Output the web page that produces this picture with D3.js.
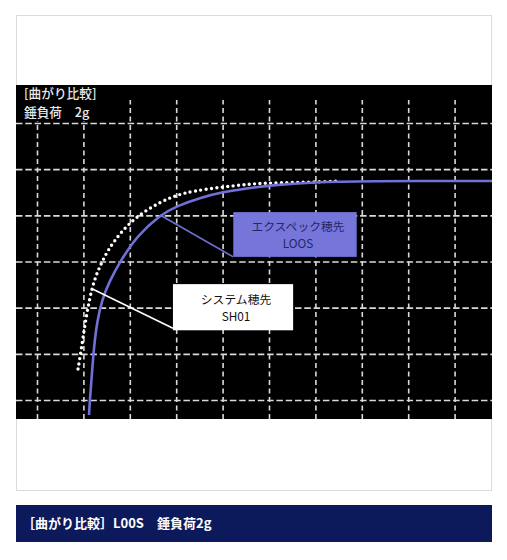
<!DOCTYPE html>
<html><head><meta charset="utf-8">
<script src="https://cdn.jsdelivr.net/npm/d3@7"></script>
<style>body{margin:0;background:#fff;}svg{display:block;}</style>
</head><body>
<script>
// ---- data (grid units) ----
const gridX = [0,1,2,3,4,5,6,7,8,9];
const gridY = [0,1,2,3,4,5,6];
const loosX = [1.121,1.142,1.185,1.228,1.293,1.401,1.552,1.810,2.155,2.651,3.017,3.513,3.987,4.591,4.978,5.991,6.983,9.914];
const loosY = [-0.325,0.043,0.585,1.148,1.689,2.166,2.556,3.032,3.552,4.007,4.202,4.375,4.505,4.592,4.646,4.722,4.743,4.743];
const sh01X = [0.884,0.927,0.991,1.056,1.142,1.207,1.293,1.401,1.530,1.789,2.155,2.651,3.017,3.362,3.987,4.591,4.978,5.991,6.530];
const sh01Y = [0.671,0.931,1.343,1.776,2.231,2.491,2.751,2.989,3.249,3.617,3.985,4.289,4.440,4.527,4.613,4.678,4.700,4.722,4.743];
const chartLabel = ["[曲がり比較]", "錘負荷　2g"];
const loosName = ["エクスペック穂先", "LOOS"];
const sh01Name = ["システム穂先", "SH01"];
const titleText = "［曲がり比較］L00S　錘負荷2g";

const W = 507, H = 560;
const frame = {x0:16, x1:492, y0:15, y1:491};
const plot = {x0:16, x1:492, y0:85, y1:419};

const x = d3.scaleLinear().domain([0,10]).range([37, 501]);
const y = d3.scaleLinear().domain([0,6]).range([400, 123]);

const svg = d3.select("body").append("svg").attr("width", W).attr("height", H);

// outer frame
svg.append("rect").attr("x", frame.x0+0.5).attr("y", frame.y0+0.5)
  .attr("width", frame.x1-frame.x0-1).attr("height", frame.y1-frame.y0-1)
  .attr("fill", "#fff").attr("stroke", "#dcdcdc");

// black plot area
svg.append("rect").attr("x", plot.x0).attr("y", plot.y0)
  .attr("width", plot.x1-plot.x0).attr("height", plot.y1-plot.y0).attr("fill", "#000");

svg.append("clipPath").attr("id","clip").append("rect")
  .attr("x", plot.x0).attr("y", plot.y0).attr("width", plot.x1-plot.x0).attr("height", plot.y1-plot.y0);

const g = svg.append("g").attr("clip-path", "url(#clip)");

// grid via axes
const gy = g.append("g").attr("transform", `translate(${plot.x0},0)`)
  .call(d3.axisLeft(y).tickValues(gridY).tickSize(-(plot.x1-plot.x0)).tickFormat(""));
gy.select(".domain").remove();
gy.selectAll("line").attr("stroke", "#d9d9d9").attr("stroke-width", 1.6).attr("stroke-dasharray", "6.5,2.8");

const gx = g.append("g").attr("transform", `translate(0,${plot.y1})`)
  .call(d3.axisBottom(x).tickValues(gridX).tickSize(-(plot.y1-100)).tickFormat(""));
gx.select(".domain").remove();
gx.selectAll("line").attr("stroke", "#d9d9d9").attr("stroke-width", 1.6).attr("stroke-dasharray", "5,3.5");

// label block (covers grid behind)
svg.append("rect").attr("x", plot.x0+1).attr("y", plot.y0).attr("width", 88).attr("height", 36).attr("fill", "#000");
svg.selectAll("text.lbl").data(chartLabel).join("text").attr("class","lbl")
  .attr("x", 24).attr("y", (d,i)=> 98 + i*19)
  .attr("fill", "#e8e8e8").attr("font-family", "'Noto Sans CJK JP', sans-serif")
  .attr("font-size", 12.7).attr("font-weight", 500).text(d=>d);

const line = d3.line().x(d=>x(d[0])).y(d=>y(d[1])).curve(d3.curveBasis);

const loos = loosX.map((v,i)=>[v, loosY[i]]);
const sh01 = sh01X.map((v,i)=>[v, sh01Y[i]]);

const blue = "#7070d8";

// SH01 dotted
g.append("path").datum(sh01).attr("d", line).attr("fill","none")
  .attr("stroke", "#fff").attr("stroke-width", 3.4).attr("stroke-linecap","round")
  .attr("stroke-dasharray", "0,5.4");

// LOOS solid
g.append("path").datum(loos).attr("d", line).attr("fill","none")
  .attr("stroke", blue).attr("stroke-width", 2.6);

// annotations
function annot(anchor, box, endOffset, names, fill, textFill, lineColor) {
  const bx0 = x(box[0]), bx1 = x(box[1]), by0 = y(box[2]), by1 = y(box[3]);
  svg.append("line").attr("x1", x(anchor[0])).attr("y1", y(anchor[1]))
    .attr("x2", bx0).attr("y2", by1 - endOffset)
    .attr("stroke", lineColor).attr("stroke-width", 1.6);
  svg.append("rect").attr("x", bx0).attr("y", by0).attr("width", bx1-bx0).attr("height", by1-by0).attr("fill", fill);
  const cx = (bx0+bx1)/2 + 3;
  const t = svg.append("text").attr("text-anchor","middle").attr("fill", textFill)
    .attr("font-family", "'Noto Sans CJK JP', sans-serif").attr("font-size", 11.8)
    .attr("x", cx).attr("y", (by0+by1)/2 - 3.5);
  t.selectAll("tspan").data(names).join("tspan")
    .attr("x", cx).attr("dy", (d,i)=> i ? 17.2 : 0).text(d=>d);
}
annot([2.651,4.007], [4.23,6.89,4.07,3.10], 0, loosName, "#7575da", "#262660", blue);
annot([1.207,2.40], [2.93,5.52,2.51,1.51], 2, sh01Name, "#fff", "#111", "#fff");

// title bar
svg.append("rect").attr("x", 16).attr("y", 505).attr("width", 476).attr("height", 37).attr("fill", "#0c1a5c");
svg.append("text").attr("x", 22).attr("y", 528).attr("fill","#fff")
  .attr("font-family", "'Noto Sans CJK JP', sans-serif").attr("font-size", 13).attr("font-weight", 700)
  .text(titleText);
</script>
</body></html>
